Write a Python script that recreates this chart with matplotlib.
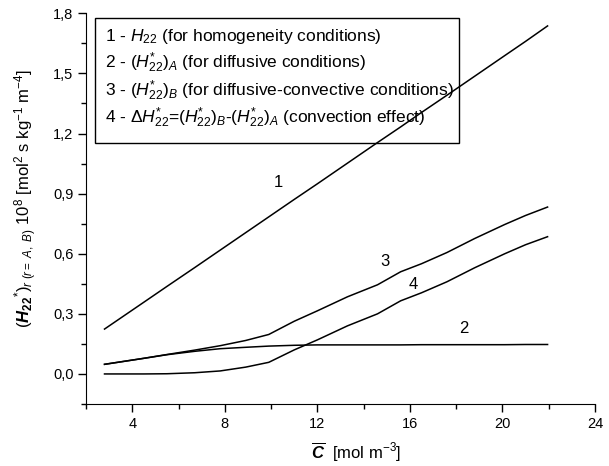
import matplotlib
matplotlib.use("Agg")
import matplotlib.pyplot as plt
from matplotlib.ticker import MultipleLocator, FuncFormatter
from matplotlib.patches import Rectangle

plt.rcParams['font.family'] = ['Liberation Sans', 'DejaVu Sans']
plt.rcParams['mathtext.fontset'] = 'custom'
plt.rcParams['mathtext.rm'] = 'Liberation Sans'
plt.rcParams['mathtext.it'] = 'Liberation Sans:italic'
plt.rcParams['mathtext.bf'] = 'Liberation Sans:bold'
plt.rcParams['mathtext.bfit'] = 'Liberation Sans:bold:italic'
plt.rcParams['mathtext.sf'] = 'Liberation Sans'

# Data
c_mean = [2.8, 4.5, 5.5, 6.7, 7.8, 8.9, 9.9, 11.0, 12.0, 13.3, 14.6, 15.6,
          16.5, 17.6, 18.8, 20.1, 21.0, 21.95]
h22_homog = [0.224, 0.358, 0.437, 0.531, 0.618, 0.705, 0.784, 0.871, 0.949,
             1.052, 1.155, 1.233, 1.305, 1.391, 1.486, 1.589, 1.660, 1.737]
h22_diff_A = [0.048, 0.078, 0.096, 0.113, 0.126, 0.133, 0.139, 0.143, 0.145,
              0.145, 0.145, 0.145, 0.146, 0.146, 0.146, 0.146, 0.147, 0.147]
h22_conv_B = [0.048, 0.078, 0.097, 0.119, 0.141, 0.167, 0.197, 0.263, 0.315,
              0.385, 0.445, 0.510, 0.550, 0.606, 0.676, 0.746, 0.791, 0.833]
delta_h22 = [0.0, 0.0, 0.001, 0.006, 0.015, 0.034, 0.058, 0.120, 0.170,
             0.240, 0.300, 0.365, 0.405, 0.460, 0.530, 0.600, 0.645, 0.685]

curve_labels = ['1', '2', '3', '4']
label_pos = [(10.3, 0.955), (18.35, 0.225), (14.9, 0.56), (16.15, 0.447)]

legend_lines = [
    r'1 - $\mathit{H}_{22}$ (for homogeneity conditions)',
    r'2 - $(\mathit{H}_{22}^{*})_{\mathit{A}}$ (for diffusive conditions)',
    r'3 - $(\mathit{H}_{22}^{*})_{\mathit{B}}$ (for diffusive-convective conditions)',
    r'4 - $\Delta\mathit{H}_{22}^{*}$=$(\mathit{H}_{22}^{*})_{\mathit{B}}$-$(\mathit{H}_{22}^{*})_{\mathit{A}}$ (convection effect)',
]

W, H = 609, 466
fig = plt.figure(figsize=(W / 100, H / 100), dpi=100)
L, R, T, B = 86, 595, 13.3, 404
ax = fig.add_axes([L / W, 1 - B / H, (R - L) / W, (B - T) / H])

for ys in (h22_homog, h22_diff_A, h22_conv_B, delta_h22):
    ax.plot(c_mean, ys, color='black', lw=1.1)

for lab, (xx, yy) in zip(curve_labels, label_pos):
    ax.text(xx, yy, lab, fontsize=12, ha='center', va='center')

ax.set_xlim(2, 24)
ax.set_ylim(-0.15, 1.8)
ax.spines['top'].set_visible(False)
ax.spines['right'].set_visible(False)
ax.xaxis.set_major_locator(MultipleLocator(4))
ax.xaxis.set_minor_locator(MultipleLocator(2))
ax.yaxis.set_major_locator(MultipleLocator(0.3))
ax.yaxis.set_minor_locator(MultipleLocator(0.15))
ax.yaxis.set_major_formatter(FuncFormatter(lambda v, p: f'{v:.1f}'.replace('.', ',').replace('-0,0', '0,0')))
ax.tick_params(which='major', direction='out', length=6, width=1, labelsize=10.5, pad=3)
ax.tick_params(which='minor', direction='out', length=3.5, width=1)

ax.set_xlabel(r'$\overline{\mathbfit{C}}$  [mol m$^{-3}$]', fontsize=12)
ax.xaxis.set_label_coords((356 - L) / (R - L), (B - 441) / (B - T))
ax.set_ylabel(r'$(\mathbfit{H}_{\mathbf{22}}{}^{*})_{\mathit{r\ (r=\ A,\ B)}}\ 10^{8}\ [\mathrm{mol}^{2}\ \mathrm{s\ kg}^{-1}\ \mathrm{m}^{-4}]$',
              fontsize=12)
ax.yaxis.set_label_coords((39 - L) / (R - L), (B - 199) / (B - T))

# legend box
bx0, by0, bx1, by1 = 94.5, 18, 459, 143
fig.patches.append(Rectangle((bx0 / W, 1 - by1 / H), (bx1 - bx0) / W, (by1 - by0) / H,
                             transform=fig.transFigure, fill=False, edgecolor='black', lw=1))
line_y = [36, 63, 91, 118]
for txt, yy in zip(legend_lines, line_y):
    fig.text(105 / W, 1 - yy / H, txt, fontsize=12.5, ha='left', va='center')

fig.savefig('out.png', dpi=100, facecolor='white')
